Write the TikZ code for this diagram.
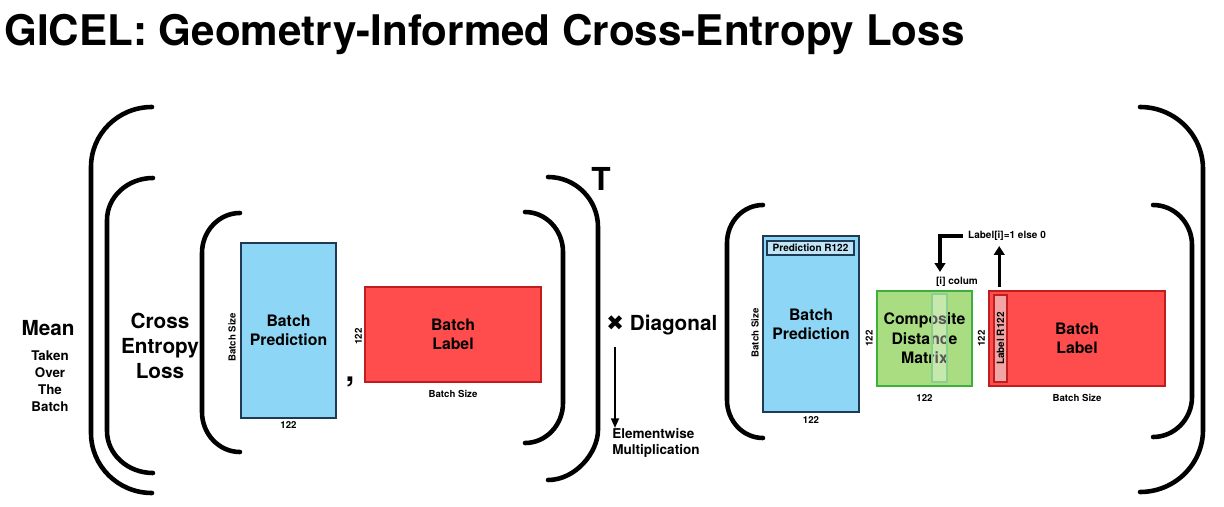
\documentclass[tikz,border=0pt]{standalone}
\usepackage{fontspec}
\setmainfont{TeX Gyre Heros}
\newfontfamily\symfont{DejaVu Sans}
\usepackage{tikz}
\usetikzlibrary{arrows.meta, positioning, calc}

\definecolor{predfill}{RGB}{142,214,245}
\definecolor{prededge}{RGB}{30,58,85}
\definecolor{predinner}{RGB}{192,229,246}
\definecolor{labfill}{RGB}{255,77,77}
\definecolor{labedge}{RGB}{192,30,30}
\definecolor{stripfill}{RGB}{242,165,165}
\definecolor{cdmfill}{RGB}{170,220,130}
\definecolor{cdmedge}{RGB}{60,175,60}

\begin{document}
\begin{tikzpicture}[x=0.02cm, y=-0.02cm,
    every node/.style={font=\bfseries, inner sep=0pt},
    brack/.style={line width=2.6pt, line cap=round},
    boxtext/.style={font=\fontsize{9}{11}\selectfont\bfseries, align=center},
    predbox/.style={boxtext, draw=prededge, fill=predfill, line width=1.1pt},
    labbox/.style={boxtext, draw=labedge, fill=labfill, line width=0.9pt},
    cdmbox/.style={boxtext, draw=cdmedge, fill=cdmfill, line width=1.1pt},
    dimlbl/.style={font=\fontsize{5.5}{6.5}\selectfont\bfseries},
    note/.style={font=\fontsize{5.7}{7}\selectfont\bfseries},
    bigword/.style={font=\fontsize{11.8}{14.2}\selectfont\bfseries, align=center},
    fatarrow/.style={line width=1.9pt, -{Triangle[length=5pt, width=6pt]}},
    thinarrow/.style={line width=1.1pt, -{Triangle[length=5.5pt, width=4.5pt]}}
]
\useasboundingbox (0,0) rectangle (1224,507);
\fill[white] (0,0) rectangle (1224,507);

% Title
\node[font=\fontsize{24}{28}\selectfont\bfseries, anchor=base west] (title) at (4,45)
    {GICEL: Geometry-Informed Cross-Entropy Loss};

% Mean over the batch
\node[bigword] (mean) at (48,328) {Mean};
\node[font=\fontsize{7.6}{9.7}\selectfont\bfseries, align=center] (taken) at (50,381)
    {Taken\\Over\\The\\Batch};
\draw[brack] (152,107) .. controls (118,107) and (91,134) .. (91,167) -- (91,433)
    .. controls (91,466) and (118,493) .. (152,493);
\draw[brack] (1140,107) .. controls (1175,107) and (1203,135) .. (1203,169) -- (1203,430)
    .. controls (1203,464) and (1175,492) .. (1140,492);

% Cross entropy loss of the pair
\node[bigword] (celoss) at (160,346) {Cross\\Entropy\\Loss};
\draw[brack] (153,178) .. controls (127.6,178) and (107,196.8) .. (107,220) -- (107,431)
    .. controls (107,454.2) and (127.6,473) .. (153,473);
\draw[brack] (548,177) .. controls (575.6,177) and (598,199.4) .. (598,227) -- (598,430)
    .. controls (598,452.4) and (575.6,480) .. (548,480);
\node[font=\fontsize{18}{18}\selectfont\bfseries] (transp) at (601,179) {T};

% Prediction and label
\draw[brack] (240,213) .. controls (219,213) and (202,231) .. (202,253) -- (202,412)
    .. controls (202,434) and (219,452) .. (240,452);
\draw[brack] (525,212) .. controls (546,212) and (563,230) .. (563,252) -- (563,403)
    .. controls (563,425) and (546,443) .. (525,443);
\node[predbox, minimum width=1.9cm, minimum height=3.5cm] (predL) at (288.5,330.5) {Batch\\Prediction};
\node[dimlbl, rotate=90, anchor=south] (predLsize) at ($(predL.west)+(-4,7)$) {Batch Size};
\node[dimlbl, below=1.5pt of predL] (predLdim) {122};
\node[font=\fontsize{18}{18}\selectfont\bfseries, anchor=base] (comma) at (350,381) {,};
\node[labbox, minimum width=3.52cm, minimum height=1.9cm] (labL) at (453,334.5) {Batch\\Label};
\node[dimlbl, rotate=90, anchor=south] (labLdim) at ($(labL.west)+(-2,2)$) {122};
\node[dimlbl, below=4pt of labL] (labLsize) {Batch Size};

% Diagonal
\node[bigword, anchor=west] (diag) at (606,325) {{\symfont\fontsize{12}{12}\selectfont ✖} Diagonal};
\node[font=\fontsize{7.7}{8.9}\selectfont\bfseries, align=left, anchor=north west] (elem) at (612,428)
    {Elementwise\\Multiplication};
\draw[thinarrow] ($(diag.south west)+(9,12)$) -- ($(elem.north west)+(3,0)$);

% Distance weighted label
\draw[brack] (763,205) .. controls (743,205) and (727,222) .. (727,243) -- (727,400)
    .. controls (727,421) and (743,438) .. (763,438);
\draw[brack] (1153,205) .. controls (1174.5,205) and (1192,223) .. (1192,245) -- (1192,397)
    .. controls (1192,419) and (1174.5,437) .. (1153,437);
\node[predbox, minimum width=1.92cm, minimum height=3.52cm] (predR) at (811,324) {Batch\\Prediction};
\node[note, draw=prededge, fill=predinner, line width=0.6pt, minimum width=1.74cm, minimum height=0.28cm]
    (predrow) at (810.5,248) {Prediction R122};
\node[dimlbl, rotate=90, anchor=south] (predRsize) at ($(predR.west)+(-3,9)$) {Batch Size};
\node[dimlbl, below=2pt of predR] (predRdim) {122};

\node[cdmbox, minimum width=1.9cm, minimum height=1.9cm] (cdm) at (924.5,338.5) {Composite\\Distance\\Matrix};
\node[draw=cdmedge!60, fill=white, fill opacity=0.35, line width=0.6pt, minimum width=0.3cm, minimum height=1.76cm]
    (icolumn) at (939.5,338) {};
\node[dimlbl, rotate=90, anchor=south] (cdmrow) at ($(cdm.west)+(-3,0)$) {122};
\node[dimlbl, below=4pt of cdm] (cdmcol) {122};

\node[labbox, minimum width=3.52cm, minimum height=1.9cm] (labR) at (1077,338.5) {Batch\\Label};
\node[note, rotate=90, draw=labedge, fill=stripfill, line width=0.6pt, minimum width=1.74cm, minimum height=0.26cm]
    (labstrip) at (1000.5,338.5) {Label R122};
\node[dimlbl, rotate=90, anchor=south] (labRrow) at ($(labR.west)+(-3,0)$) {122};
\node[dimlbl, below=4pt of labR] (labRsize) {Batch Size};

\node[note] (onehot) at (1007,236) {Label[i]=1 else 0};
\node[note] (icol) at (957,282) {[i] colum};
\draw[fatarrow] ([xshift=-3pt]onehot.west) -| ($(icol.north)+(-17,-5)$);
\draw[fatarrow] ($(labR.north west)+(11,-3)$) coordinate (upfoot) -- ($(upfoot |- onehot.south)+(0,5)$);

\end{tikzpicture}
\end{document}
